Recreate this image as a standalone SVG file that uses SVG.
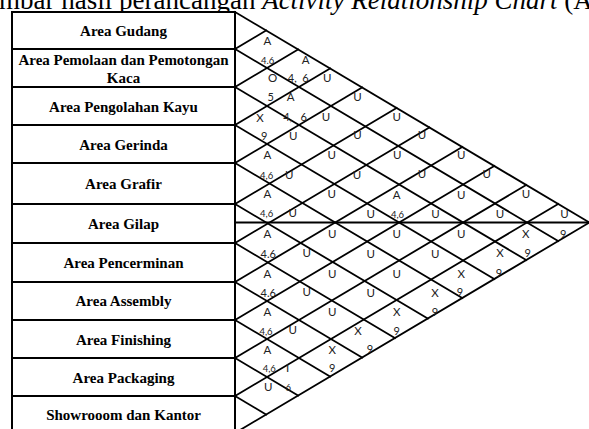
<svg xmlns="http://www.w3.org/2000/svg" width="589" height="429" viewBox="0 0 589 429">
<style>
.bg{fill:#ffffff}
.cell{fill:#ffffff;stroke:#000;stroke-width:2}
.dept{font-family:"Liberation Serif","Times New Roman",serif;font-weight:bold;font-size:15px;fill:#000;text-anchor:middle}
.title{font-family:"Liberation Serif","Times New Roman",serif;font-size:27px;fill:#000}
.grid line{stroke:#000;stroke-width:1.8;stroke-linecap:square}
.L{font-family:Lato,"Open Sans",sans-serif;font-size:11.5px;fill:#222;text-anchor:middle}
.M{font-family:Lato,"Open Sans",sans-serif;font-size:11px;fill:#222;text-anchor:middle}
.N{font-family:Lato,"Open Sans",sans-serif;font-size:9.5px;fill:#222;text-anchor:middle}
</style>
<rect class="bg" x="0" y="0" width="589" height="429"/>
<text class="title" x="-1" y="9">mbar hasil perancangan <tspan font-style="italic">Activity Relationship Chart</tspan> (A</text>

<g id="dept-1"><rect class="cell" x="12" y="12" width="223" height="37"/><text class="dept" x="123.5" y="36">Area Gudang</text></g>
<g id="dept-2"><rect class="cell" x="12" y="49" width="223" height="38"/><text class="dept" x="123.5" y="65.3">Area Pemolaan dan Pemotongan</text><text class="dept" x="123.5" y="82.7">Kaca</text></g>
<g id="dept-3"><rect class="cell" x="12" y="87" width="223" height="38"/><text class="dept" x="123.5" y="111.5">Area Pengolahan Kayu</text></g>
<g id="dept-4"><rect class="cell" x="12" y="125" width="223" height="38"/><text class="dept" x="123.5" y="149.5">Area Gerinda</text></g>
<g id="dept-5"><rect class="cell" x="12" y="163" width="223" height="41"/><text class="dept" x="123.5" y="189">Area Grafir</text></g>
<g id="dept-6"><rect class="cell" x="12" y="204" width="223" height="39"/><text class="dept" x="123.5" y="228.5">Area Gilap</text></g>
<g id="dept-7"><rect class="cell" x="12" y="243" width="223" height="39"/><text class="dept" x="123.5" y="267.5">Area Pencerminan</text></g>
<g id="dept-8"><rect class="cell" x="12" y="282" width="223" height="38"/><text class="dept" x="123.5" y="306">Area Assembly</text></g>
<g id="dept-9"><rect class="cell" x="12" y="320" width="223" height="38"/><text class="dept" x="123.5" y="344.5">Area Finishing</text></g>
<g id="dept-10"><rect class="cell" x="12" y="358" width="223" height="38"/><text class="dept" x="123.5" y="382.5">Area Packaging</text></g>
<g id="dept-11"><rect class="cell" x="12" y="396" width="223" height="40"/><text class="dept" x="123.5" y="419.5">Showrooom dan Kantor</text></g>

<g id="connectors" class="grid">
<line x1="235" y1="222.5" x2="589.4" y2="222.5"/>
<line x1="235" y1="12" x2="589.4" y2="222.5"/>
<line x1="235" y1="49" x2="558.2" y2="241"/>
<line x1="235" y1="87" x2="526.2" y2="260"/>
<line x1="235" y1="125" x2="494.3" y2="279"/>
<line x1="235" y1="163" x2="462.3" y2="298"/>
<line x1="235" y1="204" x2="427.8" y2="318.5"/>
<line x1="235" y1="243" x2="394.9" y2="338"/>
<line x1="235" y1="282" x2="362.1" y2="357.5"/>
<line x1="235" y1="320" x2="330.1" y2="376.5"/>
<line x1="235" y1="358" x2="298.1" y2="395.5"/>
<line x1="235" y1="396" x2="266.1" y2="414.5"/>
<line x1="235" y1="49" x2="266.1" y2="30.5"/>
<line x1="235" y1="87" x2="298.1" y2="49.5"/>
<line x1="235" y1="125" x2="330.1" y2="68.5"/>
<line x1="235" y1="163" x2="362.1" y2="87.5"/>
<line x1="235" y1="204" x2="396.6" y2="108"/>
<line x1="235" y1="243" x2="429.4" y2="127.5"/>
<line x1="235" y1="282" x2="462.3" y2="147"/>
<line x1="235" y1="320" x2="494.3" y2="166"/>
<line x1="235" y1="358" x2="526.2" y2="185"/>
<line x1="235" y1="396" x2="558.2" y2="204"/>
<line x1="235" y1="433" x2="589.4" y2="222.5"/>
</g>

<g id="labels">
<text class="L" x="267.3" y="44.8">A</text>
<text class="N" x="267.7" y="64.4">4.6</text>
<text class="L" x="305.7" y="64.1">A</text>
<text class="L" x="272.7" y="82.4">O</text>
<text class="M" x="298.3" y="82.2" xml:space="preserve">4,  6</text>
<text class="L" x="327.3" y="81.8">U</text>
<text class="M" x="270.7" y="101.2">5</text>
<text class="L" x="290.7" y="101.4">A</text>
<text class="L" x="357.5" y="101.3">U</text>
<text class="L" x="260" y="121.8">X</text>
<text class="M" x="295" y="121.2" xml:space="preserve">4,   6</text>
<text class="L" x="326" y="121" font-size="10.5">U</text>
<text class="L" x="396.7" y="121.1">U</text>
<text class="M" x="264.3" y="139.6">9</text>
<text class="L" x="293.3" y="139.8">U</text>
<text class="L" x="357.5" y="139.1">U</text>
<text class="L" x="422" y="139.1">U</text>
<text class="L" x="267.3" y="159.1">A</text>
<text class="L" x="331.7" y="159.1">U</text>
<text class="L" x="397.2" y="158.6">U</text>
<text class="L" x="461.3" y="158.6">U</text>
<text class="N" x="266.7" y="178.9">4,6</text>
<text class="L" x="289.3" y="178.8">U</text>
<text class="L" x="357" y="179.1">U</text>
<text class="L" x="422" y="178.3">U</text>
<text class="L" x="486.7" y="178.3">U</text>
<text class="L" x="267.3" y="198.4">A</text>
<text class="L" x="331.7" y="197.8">U</text>
<text class="L" x="396.7" y="198.6">A</text>
<text class="L" x="461.3" y="198.6">U</text>
<text class="L" x="526" y="198.4">U</text>
<text class="N" x="266.7" y="217.4">4,6</text>
<text class="L" x="292.7" y="217.1">U</text>
<text class="L" x="370.7" y="218.1">U</text>
<text class="N" x="397.5" y="217.6">4,6</text>
<text class="L" x="435.5" y="218.3">U</text>
<text class="L" x="500" y="218.4">U</text>
<text class="L" x="564.6" y="218.4">U</text>
<text class="L" x="267.3" y="238.1">A</text>
<text class="L" x="332.3" y="238.1">U</text>
<text class="L" x="396.7" y="238.1">U</text>
<text class="L" x="461.3" y="238.1">U</text>
<text class="L" x="525.7" y="238.1">X</text>
<text class="M" x="563.3" y="237.9">9</text>
<text class="M" x="268.3" y="257.9">4.6</text>
<text class="L" x="306.7" y="257.4">U</text>
<text class="L" x="370.7" y="258.1">U</text>
<text class="L" x="435.3" y="258.1">U</text>
<text class="L" x="500" y="257.4">X</text>
<text class="M" x="527.7" y="257.2">9</text>
<text class="L" x="267.3" y="278.1">A</text>
<text class="L" x="332.3" y="278.1">U</text>
<text class="L" x="396.7" y="278.1">U</text>
<text class="L" x="461.3" y="277.7">X</text>
<text class="M" x="499" y="277.2">9</text>
<text class="M" x="268.3" y="297.2">4.6</text>
<text class="L" x="306.7" y="296.4">U</text>
<text class="L" x="370.7" y="296.8">U</text>
<text class="L" x="435" y="296.8">X</text>
<text class="M" x="460" y="295.6">9</text>
<text class="L" x="267.3" y="315.8">A</text>
<text class="L" x="332.3" y="315.8">U</text>
<text class="L" x="396.7" y="315.8">X</text>
<text class="M" x="435" y="315.6">9</text>
<text class="N" x="266" y="334.6" font-size="10">4,6</text>
<text class="L" x="292.7" y="334.1">U</text>
<text class="L" x="358" y="335.1">X</text>
<text class="M" x="396.7" y="334.9">9</text>
<text class="L" x="267.3" y="354.1">A</text>
<text class="L" x="332.3" y="354.1">X</text>
<text class="M" x="370" y="353.2">9</text>
<text class="N" x="269.3" y="371.9" font-size="10">4,6</text>
<text class="L" x="287.7" y="372" font-size="10.5">I</text>
<text class="M" x="332.3" y="372.2">9</text>
<text class="L" x="268.3" y="391.4">U</text>
<text class="N" x="288.3" y="390.7">6</text>
</g>
</svg>
